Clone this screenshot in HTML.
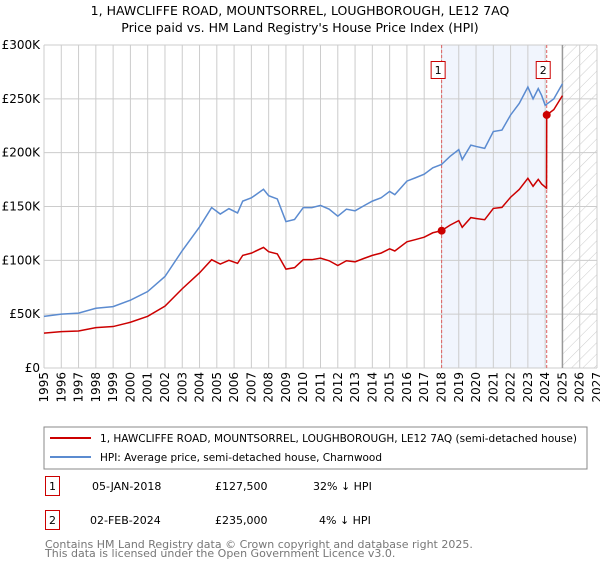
<!DOCTYPE html>
<html><head><meta charset="utf-8"><style>
body{margin:0;background:#fff;font-family:"Liberation Sans","DejaVu Sans",sans-serif;}
svg text{font-family:"DejaVu Sans","Liberation Sans",sans-serif;}
</style></head><body>
<svg id="c" width="600" height="560" viewBox="0 0 600 560" xmlns="http://www.w3.org/2000/svg">
<defs><pattern id="hatch" width="8" height="8" patternUnits="userSpaceOnUse" patternTransform="rotate(45)"><line x1="0" y1="0" x2="0" y2="8" stroke="#ccc" stroke-width="1"/></pattern></defs>
<text x="300" y="15" text-anchor="middle" font-size="12.5" fill="#000">1, HAWCLIFFE ROAD, MOUNTSORREL, LOUGHBOROUGH, LE12 7AQ</text>
<text x="300" y="32" text-anchor="middle" font-size="12.5" fill="#000">Price paid vs. HM Land Registry's House Price Index (HPI)</text>
<g id="plot"></g>
<rect x="44" y="427" width="543" height="42" fill="#fff" stroke="#888"/>
<line x1="50" y1="438" x2="91" y2="438" stroke="#cc0000" stroke-width="2"/>
<text x="100" y="442" font-size="11" textLength="477" lengthAdjust="spacingAndGlyphs">1, HAWCLIFFE ROAD, MOUNTSORREL, LOUGHBOROUGH, LE12 7AQ (semi-detached house)</text>
<line x1="50" y1="457" x2="91" y2="457" stroke="#5b8bd0" stroke-width="2"/>
<text x="100" y="461" font-size="11" textLength="282" lengthAdjust="spacingAndGlyphs">HPI: Average price, semi-detached house, Charnwood</text>
<g>
<rect x="45.5" y="476.5" width="14" height="19" fill="none" stroke="#cc0000"/>
<text x="52.5" y="490" font-size="11" text-anchor="middle">1</text>
<text x="92" y="490" font-size="11">05-JAN-2018</text>
<text x="215" y="490" font-size="11">£127,500</text>
<text x="313" y="490" font-size="11">32% ↓ HPI</text></g>
<g>
<rect x="45.5" y="510.5" width="14" height="19" fill="none" stroke="#cc0000"/>
<text x="52.5" y="524" font-size="11" text-anchor="middle">2</text>
<text x="90" y="524" font-size="11">02-FEB-2024</text>
<text x="215" y="524" font-size="11">£235,000</text>
<text x="319" y="524" font-size="11">4% ↓ HPI</text></g>
<text x="45" y="548" font-size="11" fill="#777">Contains HM Land Registry data © Crown copyright and database right 2025.</text>
<text x="45" y="557" font-size="11" fill="#777">This data is licensed under the Open Government Licence v3.0.</text>
</svg>
<script>
const hpiYears=[1995,1996,1997,1998,1999,2000,2001,2002,2003,2004,2004.7,2005.2,2005.7,2006.2,2006.5,2007,2007.7,2008,2008.5,2009,2009.5,2010,2010.5,2011,2011.5,2012,2012.5,2013,2013.5,2014,2014.5,2015,2015.3,2016,2016.5,2017,2017.5,2018,2018.5,2019,2019.2,2019.7,2020,2020.5,2021,2021.5,2022,2022.5,2023,2023.3,2023.6,2023.8,2024,2024.5,2025];
const hpiValues=[48,50,51,55.5,57,63,71,85,109,131,149,143,148,144,155,158,166,160,157,136,138,149,149,151,147.5,141,147.5,146,150.6,155,158,164,161,173.6,176.7,180,186,189,196.6,202.8,193.6,207,205.8,204,219.6,221,235,245.7,261,250,259.5,253,244,250,264];
const priceYears=[1995,1996,1997,1998,1999,2000,2001,2002,2003,2004,2004.7,2005.2,2005.7,2006.2,2006.5,2007,2007.7,2008,2008.5,2009,2009.5,2010,2010.5,2011,2011.5,2012,2012.5,2013,2013.5,2014,2014.5,2015,2015.3,2016,2016.5,2017,2017.5,2018,2018.5,2019,2019.2,2019.7,2020,2020.5,2021,2021.5,2022,2022.5,2023,2023.3,2023.6,2023.8,2024.08,2024.09,2024.5,2025];
const priceValues=[32.4,33.8,34.4,37.5,38.5,42.5,48,57.4,73.6,88.4,100.6,96.5,100,97.2,104.6,106.7,112,108,106,91.8,93.2,100.6,100.6,102,99.6,95.2,99.6,98.6,101.7,104.6,106.7,110.7,108.7,117.2,119.3,121.5,125.6,127.5,132.7,136.9,130.7,139.7,138.9,137.7,148.2,149.2,158.6,165.8,176.2,168.8,175.2,170.8,167,235,240,253];
const saleYears=[2018.01,2024.09];
const saleValues=[127.5,235];
const saleLabels=["1","2"];
const yTicks=[0,50,100,150,200,250,300];
const yTickLabels=["£0","£50K","£100K","£150K","£200K","£250K","£300K"];
const x0=44,x1=597,y0=368,y1=45,xMin=1995,xMax=2027,yMax=300;
const X=v=>x0+(v-xMin)/(xMax-xMin)*(x1-x0);
const Y=v=>y0-v/yMax*(y0-y1);
const g=document.getElementById('plot');
const NS='http://www.w3.org/2000/svg';
function mk(t,a){const e=document.createElementNS(NS,t);for(const k in a)e.setAttribute(k,a[k]);g.appendChild(e);return e;}
let e;
e=mk('rect',{x:X(saleYears[0]),y:y1,width:X(saleYears[1])-X(saleYears[0]),height:y0-y1,fill:'#eef3fc',opacity:0.8});


e=mk('rect',{x:X(2025),y:y1,width:x1-X(2025),height:y0-y1,fill:'url(#hatch)'});


for(let yr=xMin;yr<=xMax;yr++){
 e=mk('line',{x1:X(yr),x2:X(yr),y1:y1,y2:y0,stroke:'#ccc','stroke-width':1});
 
 
 e=mk('text',{x:0,y:0,'font-size':12,'text-anchor':'end',transform:`translate(${X(yr)+4},372) rotate(-90)`});
 e.textContent=yr;
 
 
}
yTicks.forEach((v,i)=>{
 e=mk('line',{x1:x0,x2:x1,y1:Y(v),y2:Y(v),stroke:'#ccc','stroke-width':1});
 
 
 e=mk('text',{x:40,y:Y(v)+4,'font-size':12,'text-anchor':'end'});
 e.textContent=yTickLabels[i];
 
 
});
e=mk('line',{x1:X(2025),x2:X(2025),y1:y1,y2:y0,stroke:'#999','stroke-width':1.5});


saleYears.forEach((v,i)=>{
 e=mk('line',{x1:X(v),x2:X(v),y1:y1,y2:y0,stroke:'#e06060','stroke-width':1,'stroke-dasharray':'3,2'});
 
 
 e=mk('rect',{x:X(v)-10.5,y:y1+16.5,width:14,height:17,fill:'#fff',stroke:'#cc0000'});
 
 
 e=mk('text',{x:X(v)-3.5,y:y1+29,'font-size':11,'text-anchor':'middle'});
 e.textContent=saleLabels[i];
 
 
});
e=mk('polyline',{points:hpiYears.map((v,i)=>X(v)+','+Y(hpiValues[i])).join(' '),fill:'none',stroke:'#5b8bd0','stroke-width':1.5});


e=mk('polyline',{points:priceYears.map((v,i)=>X(v)+','+Y(priceValues[i])).join(' '),fill:'none',stroke:'#cc0000','stroke-width':1.5});


saleYears.forEach((v,i)=>{
 e=mk('circle',{cx:X(v),cy:Y(saleValues[i]),r:4,fill:'#cc0000'});
 
 
});
</script>
</body></html>
